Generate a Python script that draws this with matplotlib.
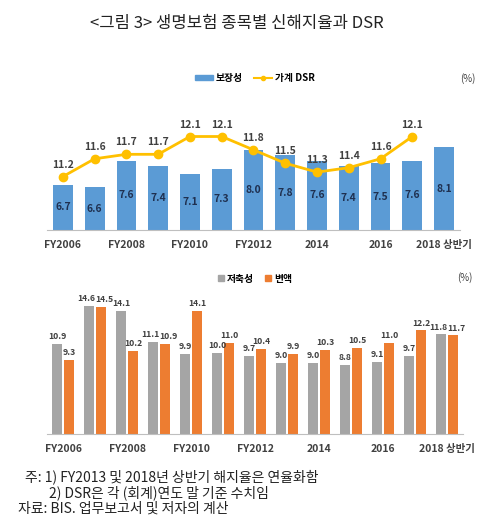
import matplotlib
matplotlib.use("Agg")
import matplotlib.pyplot as plt
from matplotlib.lines import Line2D
from matplotlib.patches import Patch
import numpy as np

plt.rcParams['font.family'] = ['Noto Sans CJK KR', 'DejaVu Sans']

categories = ["FY2006", "FY2007", "FY2008", "FY2009", "FY2010", "FY2011", "FY2012",
              "2013", "2014", "2015", "2016", "2017", "2018 상반기"]
tick_labels = ["FY2006", "", "FY2008", "", "FY2010", "", "FY2012",
               "", "2014", "", "2016", "", "2018 상반기"]
protection = [6.7, 6.6, 7.6, 7.4, 7.1, 7.3, 8.0, 7.8, 7.6, 7.4, 7.5, 7.6, 8.1]
dsr = [11.2, 11.6, 11.7, 11.7, 12.1, 12.1, 11.8, 11.5, 11.3, 11.4, 11.6, 12.1]
savings = [10.9, 14.6, 14.1, 11.1, 9.9, 10.0, 9.7, 9.0, 9.0, 8.8, 9.1, 9.7, 11.8]
variable = [9.3, 14.5, 10.2, 10.9, 14.1, 11.0, 10.4, 9.9, 10.3, 10.5, 11.0, 12.2, 11.7]

BLUE = "#5B9BD5"
GOLD = "#FFC000"
GRAY = "#A5A5A5"
ORANGE = "#ED7D31"
TXT = "#404040"

fig = plt.figure(figsize=(5.0, 5.24), dpi=100)
x = np.arange(len(categories))

def style_axis(ax):
    for s in ["top", "right", "left"]:
        ax.spines[s].set_visible(False)
    ax.spines["bottom"].set_color("#BFBFBF")
    ax.tick_params(axis="y", left=False, labelleft=False, right=False, labelright=False)
    ax.tick_params(axis="x", bottom=False, pad=4)
    ax.set_xticks(x)
    ax.set_xticklabels(tick_labels, fontsize=7.5, fontweight="bold", color=TXT)
    ax.set_xlim(-0.5, len(categories) - 0.5)

# ---- top chart ----
ax1 = fig.add_axes([0.094, 0.561, 0.826, 0.255])
ax1.bar(x, protection, width=0.62, color=BLUE, bottom=0)
ax1.set_ylim(5, 10)
ax1b = ax1.twinx()
style_axis(ax1)
ax1.set_yticks([])
for xi, v in zip(x, protection):
    ax1.text(xi, (5 + v) / 2, f"{v:.1f}", ha="center", va="center",
             fontsize=7.5, fontweight="bold", color="#1F3050")
ax1b.plot(x[:len(dsr)], dsr, color=GOLD, lw=2, marker="o", ms=6)
ax1b.set_ylim(10, 13)
ax1b.axis("off")
for xi, v in zip(x, dsr):
    ax1b.annotate(f"{v:.1f}", (xi, v), xytext=(0, 5), textcoords="offset points",
                  ha="center", va="bottom", fontsize=7.5, fontweight="bold", color=TXT)

h1 = [Patch(color=BLUE), Line2D([0], [0], color=GOLD, lw=1.5, marker="o", ms=3)]
fig.legend(h1, ["보장성", "가계 DSR"], loc="center", bbox_to_anchor=(0.51, 0.851),
           ncol=2, frameon=False, handlelength=1.8, handleheight=0.5,
           columnspacing=1.2, handletextpad=0.3, prop={"weight": "bold", "size": 7})
fig.text(0.935, 0.851, "(%)", ha="center", va="center", fontsize=7, color=TXT)

# ---- bottom chart ----
ax2 = fig.add_axes([0.094, 0.172, 0.832, 0.271])
w = 0.31
ax2.bar(x - w / 2 - 0.03, savings, width=w, color=GRAY)
ax2.bar(x + w / 2 + 0.03, variable, width=w, color=ORANGE)
ax2.set_ylim(2, 16)
style_axis(ax2)
ax2.set_yticks([])
for xi, g, o in zip(x, savings, variable):
    close = abs(g - o) < 0.5
    dx = 2.3 if close else 0
    ax2.annotate(f"{g:.1f}", (xi - w / 2 - 0.03, g), xytext=(-dx, 2), textcoords="offset points",
                 ha="center", va="bottom", fontsize=6.2, fontweight="bold", color=TXT)
    ax2.annotate(f"{o:.1f}", (xi + w / 2 + 0.03, o), xytext=(dx, 2), textcoords="offset points",
                 ha="center", va="bottom", fontsize=6.2, fontweight="bold", color=TXT)

h2 = [Patch(color=GRAY), Patch(color=ORANGE)]
fig.legend(h2, ["저축성", "변액"], loc="center", bbox_to_anchor=(0.51, 0.468),
           ncol=2, frameon=False, handlelength=0.6, handleheight=0.6,
           columnspacing=1.2, handletextpad=0.3, prop={"weight": "bold", "size": 7})
fig.text(0.93, 0.471, "(%)", ha="center", va="center", fontsize=7, color=TXT)

# ---- title & notes ----
fig.text(0.474, 0.956, "<그림 3> 생명보험 종목별 신해지율과 DSR", ha="center", va="center",
         fontsize=12, color="#222222")
fig.text(0.05, 0.090, "주: 1) FY2013 및 2018년 상반기 해지율은 연율화함", ha="left", va="center",
         fontsize=10, color="#222222")
fig.text(0.098, 0.059, "2) DSR은 각 (회계)연도 말 기준 수치임", ha="left", va="center",
         fontsize=10, color="#222222")
fig.text(0.036, 0.029, "자료: BIS. 업무보고서 및 저자의 계산", ha="left", va="center",
         fontsize=10, color="#222222")

fig.savefig("out.png", dpi=100, facecolor="white")
